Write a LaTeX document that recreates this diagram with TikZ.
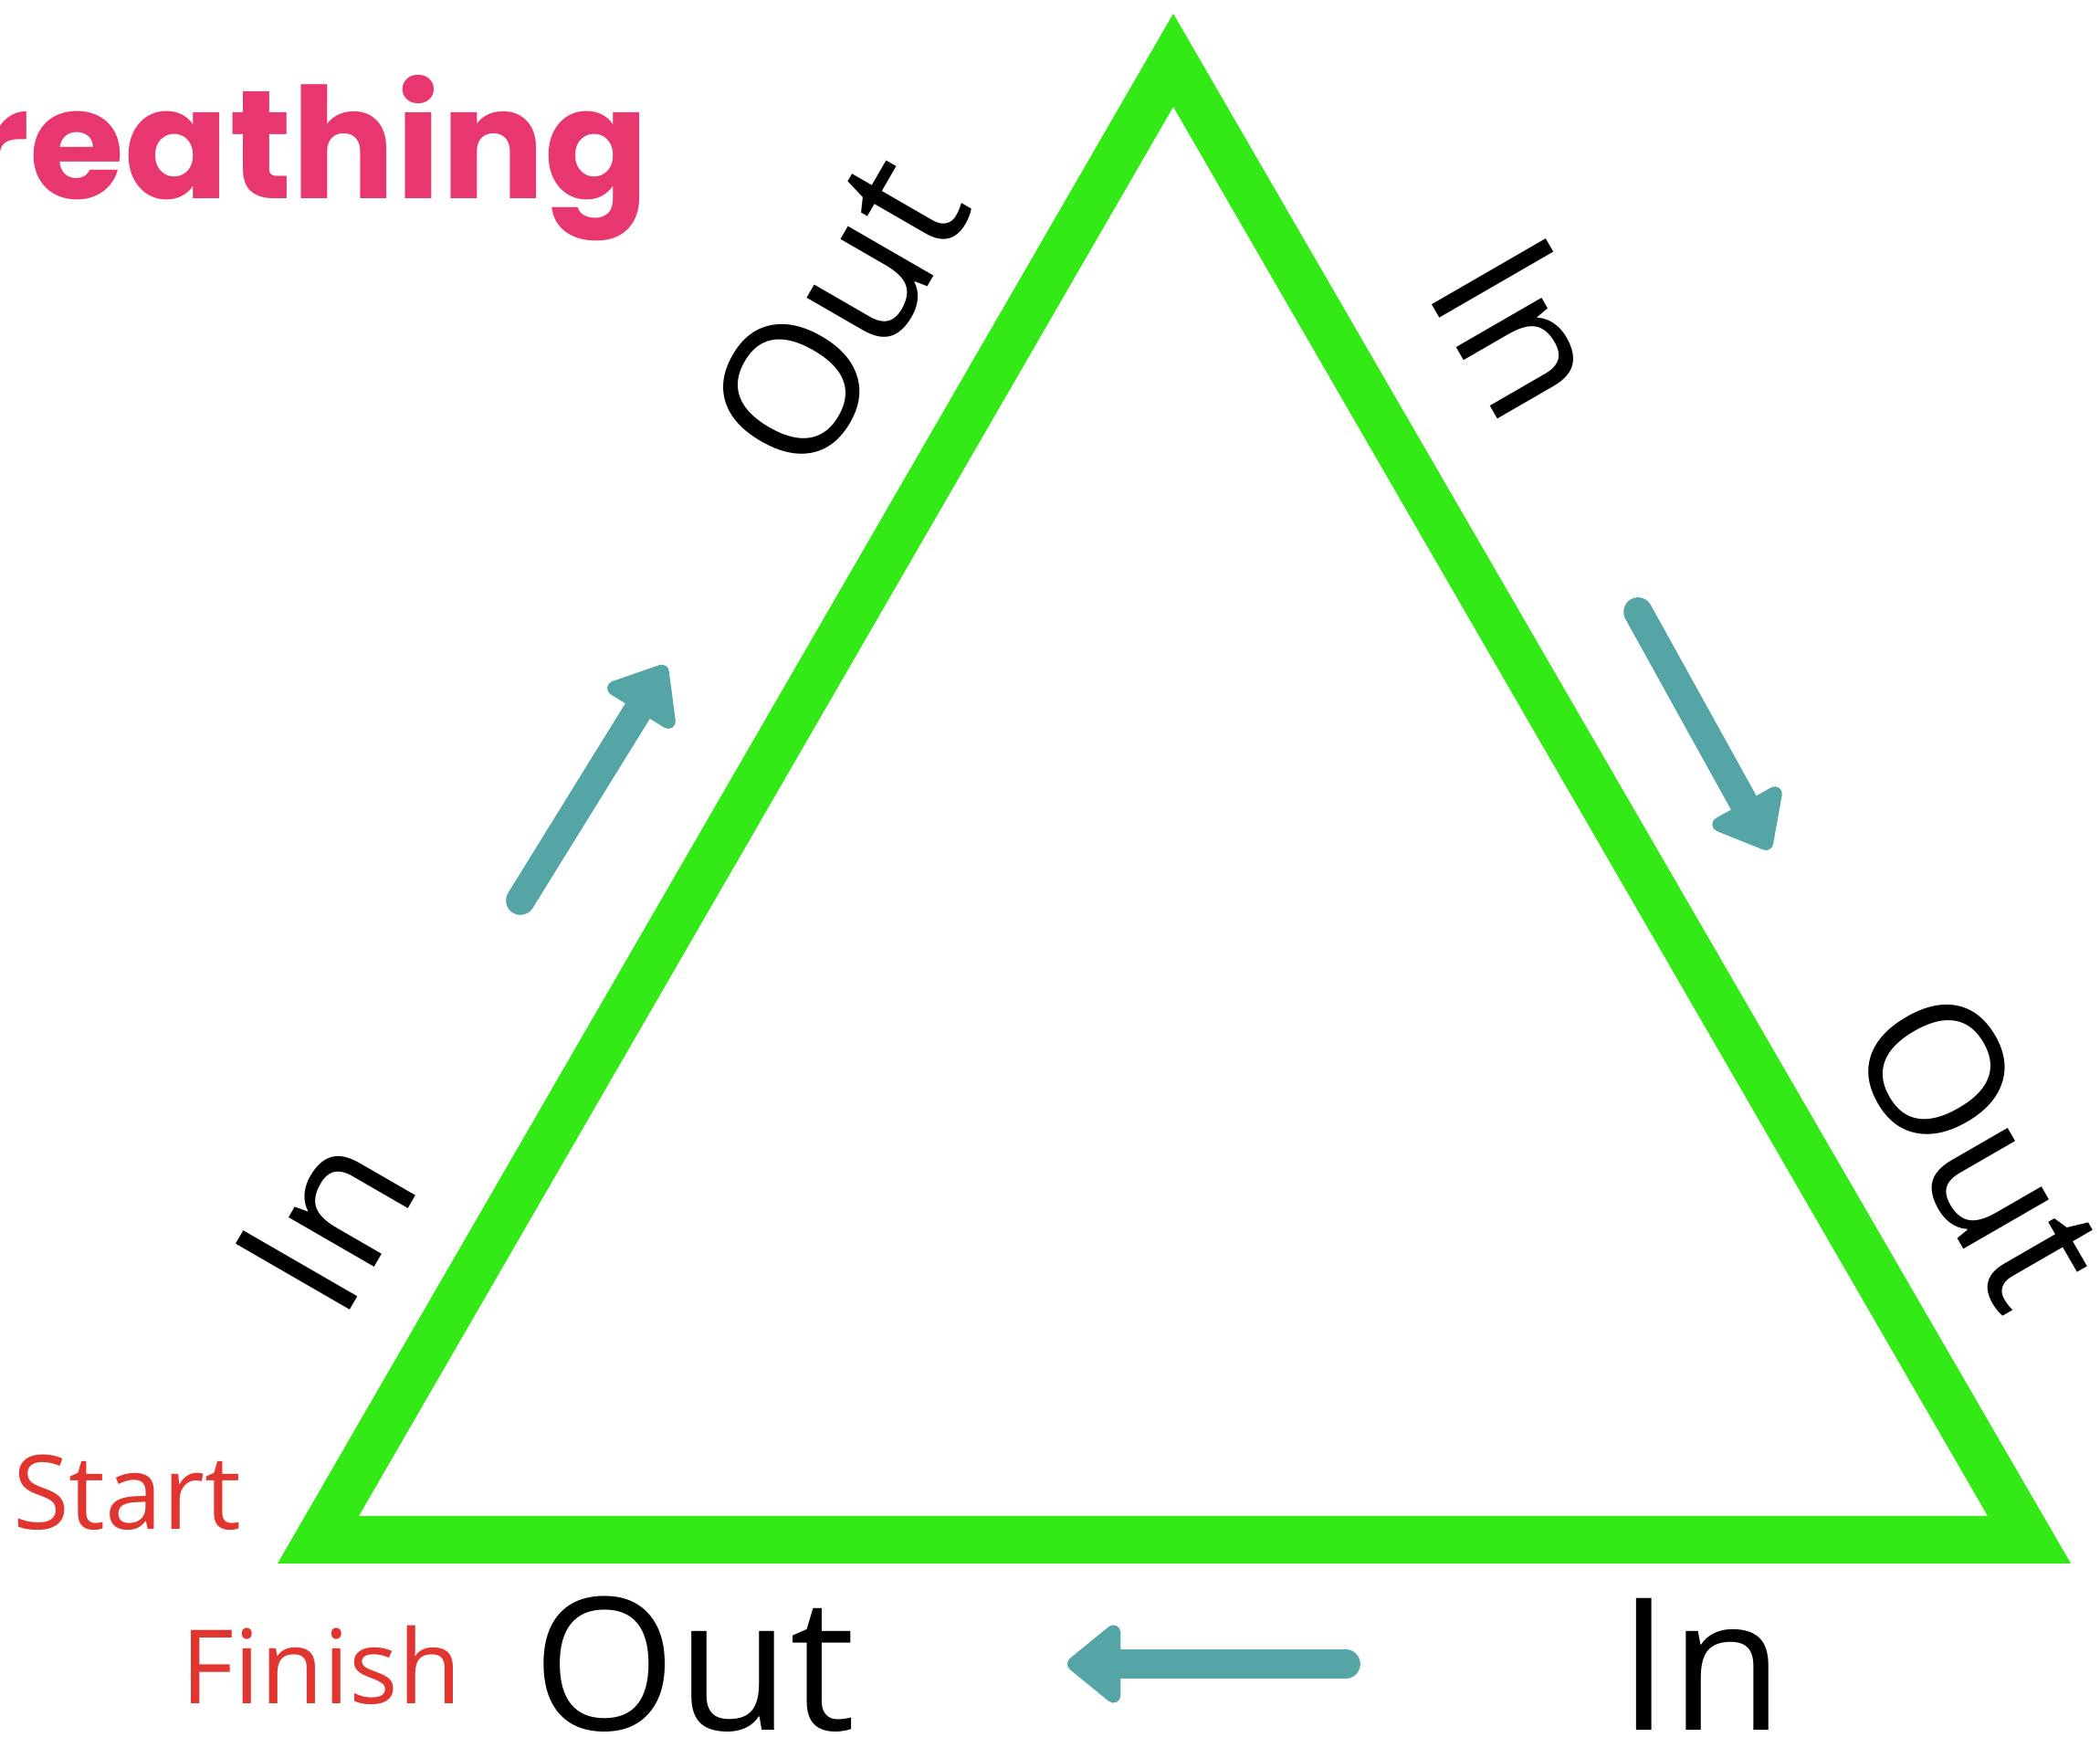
\documentclass[tikz,border=0pt]{standalone}
\usepackage{xcolor}
\usepackage{fontspec}
\setmainfont{Open Sans}
\newfontfamily\titlefont{Poppins}
\usetikzlibrary{arrows.meta}

\definecolor{leafgreen}{HTML}{33E916}
\definecolor{tealarrow}{HTML}{56A5A6}
\definecolor{startred}{HTML}{E0362F}
\definecolor{titlepink}{HTML}{E8366E}

\begin{document}
\begin{tikzpicture}[
    breath/.style={font=\fontsize{57.5}{60}\selectfont, inner sep=0pt},
    marker/.style={font=\fontsize{32}{36}\selectfont, text=startred, inner sep=0pt},
    flow/.style={tealarrow, line width=9pt, line cap=round,
        -{Triangle[round, length=18pt, width=28pt]}}
]
    \clip (0,0) rectangle (23,19.14);

    % Title, cut at the left edge
    \node[font=\titlefont\bfseries\fontsize{48}{52}\selectfont, text=titlepink,
        anchor=base east, inner sep=0pt] (title) at (7.12,16.96) {Breathing};

    % Triangle
    \fill[leafgreen, even odd rule]
        (12.85,18.99) -- (3.04,2.02) -- (22.68,2.02) -- cycle
        (12.85,17.97) -- (3.93,2.54) -- (21.77,2.54) -- cycle;

    % Labels along the sides
    \node[breath, rotate=60] (inleft) at (3.56,5.77) {In};
    \node[breath, rotate=60] (outleft) at (9.16,15.72) {Out};
    \node[breath, rotate=-60] (inright) at (16.66,15.55) {In};
    \node[breath, rotate=-60] (outright) at (21.70,6.58) {Out};
    \node[breath, anchor=base] (outbottom) at (7.60,0.19) {Out};
    \node[breath, anchor=base] (inbottom) at (18.63,0.19) {In};

    % Start and finish
    \node[marker, anchor=base] (start) at (1.39,2.39) {Start};
    \node[marker, anchor=base] (finish) at (3.52,0.48) {Finish};

    % Direction arrows
    \coordinate (upfrom) at (5.70,9.28);
    \coordinate (upto) at (7.29,11.85);
    \coordinate (downfrom) at (17.94,12.44);
    \coordinate (downto) at (19.38,9.84);
    \coordinate (backfrom) at (14.74,0.92);
    \coordinate (backto) at (11.69,0.92);
    \draw[flow] (upfrom) -- (upto);
    \draw[flow] (downfrom) -- (downto);
    \draw[flow] (backfrom) -- (backto);
\end{tikzpicture}
\end{document}
